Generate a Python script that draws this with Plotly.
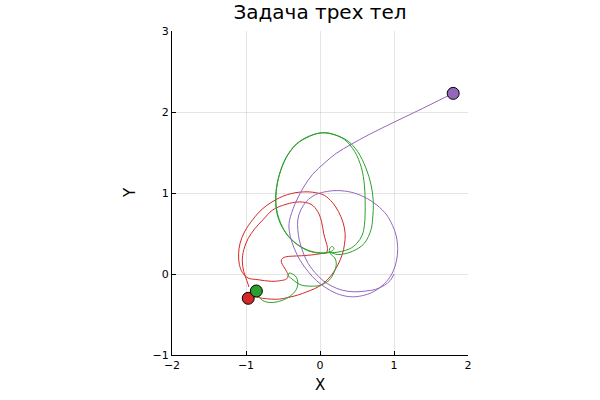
import plotly.graph_objects as go

# ---- data ----
red_x = [-0.96, -0.99, -1.03, -1.05, -1.03, -0.97, -0.88, -0.77, -0.64, -0.46, -0.28, -0.12, -0.03, 0.02, 0.05, 0.08, 0.10, 0.09,
         0.00, -0.12, -0.25, -0.38, -0.47, -0.52, -0.52, -0.49, -0.45, -0.43, -0.45, -0.52, -0.66, -0.84, -0.97,
         -1.05, -1.09, -1.10, -1.08, -1.02, -0.91, -0.77, -0.55, -0.40, -0.28, -0.10, 0.06, 0.17, 0.25, 0.31, 0.34,
         0.33, 0.30, 0.24, 0.15, 0.04, -0.07, -0.18, -0.30, -0.43, -0.55, -0.66, -0.78, -0.88, -0.97]
red_y = [-0.16, -0.08, 0.03, 0.16, 0.30, 0.44, 0.56, 0.67, 0.79, 0.86, 0.89, 0.86, 0.77, 0.65, 0.50, 0.40, 0.33, 0.27,
         0.25, 0.235, 0.225, 0.22, 0.21, 0.18, 0.14, 0.09, 0.03, -0.02, -0.06, -0.08, -0.09, -0.07, -0.05,
         0.02, 0.12, 0.25, 0.38, 0.52, 0.67, 0.81, 0.94, 0.99, 1.01, 1.01, 0.97, 0.88, 0.77, 0.64, 0.50,
         0.36, 0.24, 0.11, -0.02, -0.12, -0.18, -0.22, -0.26, -0.29, -0.31, -0.31, -0.30, -0.28, -0.30]

green_x = [0.12, 0.20, 0.29, 0.40, 0.50, 0.57, 0.60, 0.61, 0.61, 0.60, 0.56, 0.47, 0.33, 0.15, 0.00, -0.14, -0.32, -0.46,
           -0.55, -0.59, -0.59, -0.55, -0.49, -0.41, -0.28, -0.12, 0.05, 0.12,
           0.24, 0.44, 0.60, 0.69, 0.71, 0.72, 0.69, 0.62, 0.51, 0.38, 0.20, 0.05, -0.14, -0.32, -0.46,
           -0.55, -0.595, -0.595, -0.555, -0.49, -0.41, -0.28, -0.12, 0.05, 0.12,
           0.17, 0.19, 0.16, 0.13, 0.13, 0.16, 0.20, 0.22, 0.19, 0.12, 0.00, -0.14, -0.24,
           -0.31, -0.38, -0.43, -0.42, -0.37, -0.32, -0.30, -0.31, -0.36, -0.45, -0.56, -0.70, -0.80, -0.86]
green_y = [0.27, 0.265, 0.28, 0.31, 0.38, 0.48, 0.60, 0.75, 0.90, 1.10, 1.31, 1.51, 1.66, 1.73, 1.74, 1.70, 1.60, 1.43,
           1.22, 1.02, 0.82, 0.67, 0.55, 0.45, 0.35, 0.28, 0.26, 0.27,
           0.24, 0.28, 0.38, 0.55, 0.67, 0.90, 1.10, 1.31, 1.51, 1.64, 1.72, 1.745, 1.705, 1.605, 1.435,
           1.225, 1.02, 0.82, 0.665, 0.545, 0.445, 0.345, 0.275, 0.255, 0.265,
           0.29, 0.32, 0.34, 0.31, 0.27, 0.23, 0.20, 0.12, 0.02, -0.08, -0.14, -0.15, -0.14,
           -0.11, -0.06, -0.02, 0.01, 0.00, -0.04, -0.10, -0.17, -0.24, -0.30, -0.34, -0.35, -0.31, -0.21]

purple_x = [1.00, 0.95, 0.87, 0.75, 0.62, 0.46, 0.30, 0.16, 0.04, -0.07, -0.16, -0.23, -0.28, -0.30, -0.30, -0.26, -0.18, -0.06,
            0.10, 0.24, 0.42, 0.60, 0.77, 0.90, 0.98, 1.03, 1.05, 1.03, 0.97, 0.87, 0.72, 0.56, 0.40, 0.22, 0.08,
            -0.05, -0.16, -0.27, -0.35, -0.40, -0.42, -0.41, -0.34, -0.23, -0.10, 0.06, 0.22, 0.42, 0.66, 0.90, 1.15,
            1.40, 1.62, 1.80]
purple_y = [0.00, -0.08, -0.14, -0.19, -0.21, -0.22, -0.20, -0.15, -0.08, 0.02, 0.13, 0.27, 0.42, 0.55, 0.67, 0.79, 0.90, 0.98,
            1.02, 1.03, 1.01, 0.95, 0.85, 0.73, 0.60, 0.47, 0.30, 0.15, 0.00, -0.12, -0.22, -0.27, -0.28, -0.24, -0.17,
            -0.08, 0.03, 0.17, 0.32, 0.46, 0.58, 0.67, 0.86, 1.06, 1.23, 1.37, 1.49, 1.60, 1.72, 1.83, 1.94,
            2.05, 2.15, 2.23]

final_x = [-0.97, -0.86, 1.80]
final_y = [-0.30, -0.21, 2.23]

colors = ["#d62728", "#2ca02c", "#9467bd"]
x_ticks = [-2, -1, 0, 1, 2]
y_ticks = [-1, 0, 1, 2, 3]
tick_text = lambda v: [("\u2212" + str(-t)) if t < 0 else str(t) for t in v]

fig = go.Figure()
for xs, ys, c in [(red_x, red_y, colors[0]), (green_x, green_y, colors[1]), (purple_x, purple_y, colors[2])]:
    fig.add_trace(go.Scatter(x=xs, y=ys, mode="lines", line=dict(color=c, width=1, shape="spline", smoothing=1.0),
                             hoverinfo="skip"))
for i in range(3):
    fig.add_trace(go.Scatter(x=[final_x[i]], y=[final_y[i]], mode="markers", hoverinfo="skip",
                             marker=dict(color=colors[i], size=12, line=dict(color="black", width=1))))

axis_common = dict(showgrid=True, gridcolor="rgba(0,0,0,0.1)", gridwidth=0.5, zeroline=False,
                   showline=True, linecolor="black", linewidth=1, ticks="inside", ticklen=4,
                   tickcolor="black", mirror=False,
                   tickfont=dict(family="DejaVu Sans", size=11, color="black"))
fig.update_xaxes(range=[-2, 2], tickvals=x_ticks, ticktext=tick_text(x_ticks), **axis_common)
fig.update_yaxes(range=[-1, 3], tickvals=y_ticks, ticktext=tick_text(y_ticks), **axis_common)

fig.update_layout(
    width=600, height=400, showlegend=False, hovermode=False,
    margin=dict(l=172, r=132, t=31, b=45),
    paper_bgcolor="white", plot_bgcolor="white",
    title=dict(text="Задача трех тел", x=0.5, xref="paper", y=1 - 12 / 400, yref="container",
               xanchor="center", yanchor="middle", font=dict(family="DejaVu Sans", size=20, color="black")),
    annotations=[
        dict(text="X", xref="paper", yref="paper", x=0.5, y=-30 / 324, xanchor="center", yanchor="middle",
             showarrow=False, font=dict(family="DejaVu Sans", size=15, color="black")),
        dict(text="Y", xref="paper", yref="paper", x=-42 / 296, y=0.5, xanchor="center", yanchor="middle",
             textangle=-90, showarrow=False, font=dict(family="DejaVu Sans", size=15, color="black")),
    ],
)
fig.write_html("out.html", config={"displayModeBar": False},
               post_script="document.body.style.margin='0';document.body.style.overflow='hidden';")
